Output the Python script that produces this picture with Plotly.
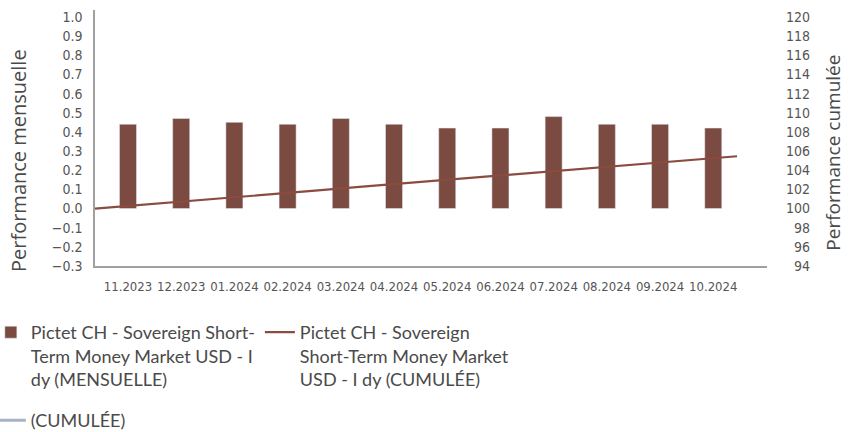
import plotly.graph_objects as go

months = ["11.2023", "12.2023", "01.2024", "02.2024", "03.2024", "04.2024",
          "05.2024", "06.2024", "07.2024", "08.2024", "09.2024", "10.2024"]
monthly = [0.44, 0.47, 0.45, 0.44, 0.47, 0.44, 0.42, 0.42, 0.48, 0.44, 0.44, 0.42]
cumul_steps = list(range(13))
cumulative = [100.0, 100.44, 100.91, 101.37, 101.81, 102.29, 102.74,
              103.17, 103.60, 104.10, 104.56, 105.02, 105.46]
right_ticks = [94, 96, 98, 100, 102, 104, 106, 108, 110, 112, 114, 116, 118, 120]

name_bar = "Pictet CH - Sovereign Short-<br>Term Money Market USD - I<br>dy (MENSUELLE)"
name_line = "Pictet CH - Sovereign<br>Short-Term Money Market<br>USD - I dy (CUMULÉE)"
name_bench = "(CUMULÉE)"

BAR = "#7b4a40"
LINE = "#8a4b40"
BENCH = "#a6b3c7"
TXT = "#4a4a4a"
TICKFAM = "DejaVu Sans Condensed, Liberation Sans Narrow, sans-serif"
XTICKFONT = dict(family=TICKFAM, size=13, color="#555555")
YTICKFONT = dict(family=TICKFAM, size=14, color="#555555")
LEGFONT = dict(family="Lato, Open Sans, sans-serif", size=18, color=TXT)
TITLEFONT = dict(family="Open Sans, Lato, sans-serif", size=20, color=TXT)

fig = go.Figure()
fig.add_trace(go.Bar(x=list(range(len(months))), y=monthly, name=name_bar,
                     marker_color=BAR, width=0.32, xaxis="x", yaxis="y"))
fig.add_trace(go.Scatter(x=cumul_steps, y=cumulative, name=name_line, mode="lines",
                         line=dict(color=LINE, width=2.2), xaxis="x2", yaxis="y2"))
fig.add_trace(go.Scatter(x=[None], y=[None], name=name_bench, mode="lines",
                         line=dict(color=BENCH, width=3), xaxis="x2", yaxis="y2",
                         legend="legend2"))

fig.update_layout(
    width=849, height=432,
    margin=dict(l=95, r=82, t=10, b=166, autoexpand=False),
    paper_bgcolor="white", plot_bgcolor="white",
    showlegend=True,
    xaxis=dict(range=[-0.62, 12.01], tickvals=list(range(len(months))), ticktext=months,
               showgrid=False, zeroline=False, showline=True, linecolor="#a0a0a0", linewidth=1.5,
               ticks="", tickfont=XTICKFONT, tickangle=0, automargin=False, ticklabelstandoff=8),
    xaxis2=dict(range=[0, 12.56], overlaying="x", visible=False),
    yaxis=dict(range=[-0.3, 1.0366], dtick=0.1, tick0=0, tickformat=".1f",
               showgrid=False, zeroline=False, showline=True, linecolor="#a0a0a0", linewidth=1.5,
               ticks="", tickfont=YTICKFONT, ticklabelstandoff=8, automargin=False),
    yaxis2=dict(range=[94, 120.73], tickvals=right_ticks,
                ticktext=[f"{v:>3}".replace(" ", "\u2007") for v in right_ticks],
                overlaying="y", side="right",
                showgrid=False, zeroline=False, showline=False, ticks="",
                tickfont=YTICKFONT, ticklabelstandoff=18, automargin=False),
    legend=dict(orientation="h", x=-0.155, xanchor="left", y=-0.1875, yanchor="top",
                font=LEGFONT, itemwidth=30, valign="top", tracegroupgap=0,
                bgcolor="rgba(0,0,0,0)"),
    legend2=dict(orientation="h", x=-0.155, xanchor="left", y=-0.531, yanchor="top",
                 font=LEGFONT, itemwidth=30, bgcolor="rgba(0,0,0,0)"),
    annotations=[
        dict(text="Performance mensuelle", xref="paper", yref="paper", x=-0.1146, y=0.414,
             xanchor="center", yanchor="middle", textangle=-90, showarrow=False,
             font=TITLEFONT),
        dict(text="Performance cumulée", xref="paper", yref="paper", x=1.099, y=0.441,
             xanchor="center", yanchor="middle", textangle=-90, showarrow=False,
             font=dict(family="Open Sans, Lato, sans-serif", size=19, color=TXT)),
    ],
)

fig.write_html("out.html")
